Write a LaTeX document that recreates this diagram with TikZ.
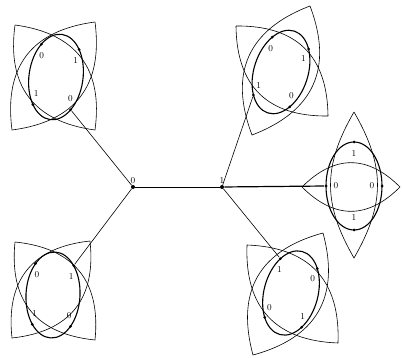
\documentclass[tikz,border=0pt]{standalone}
\begin{document}
\begin{tikzpicture}[
  x=1pt, y=-1pt, line width=0.6pt,
  vtx/.style={circle, fill, inner sep=0pt, minimum size=3pt},
  hub/.style={circle, fill, inner sep=0pt, minimum size=4pt},
  lbl/.style={font=\small, inner sep=1pt},
  ring/.style={line width=1.1pt},
  lens/.style={bend left=45, looseness=1.2},
  thin lens/.style={bend left=30, looseness=1.1}
]
\useasboundingbox (0,0) rectangle (402,358);

\node[hub, label={[lbl]above:0}] (n0) at (133,187) {};
\node[hub, label={[lbl]above:1}] (n1) at (222,187) {};

\foreach \n/\cx/\cy/\r/\a/\b/\c/\d in {tl/56/77/-8/0/1/1/0, bl/53/295/-3/0/1/1/0,
                                      tr/281/72/-18/0/1/1/0, br/291/293/-15/1/0/0/1} {
  \begin{scope}[shift={(\cx,\cy)}, rotate=\r]
    \draw[ring] (0,0) ellipse (27 and 43);
    \foreach \ang/\t/\la in {225/\a/215, 315/\b/325, 135/\c/145, 45/\d/35} {
      \node[vtx] (\n-\ang) at (\ang:27 and 43) {};
      \node[lbl] (\n-\ang-t) at (\la:21 and 34) {\t};
    }
  \end{scope}
}

\begin{scope}[shift={(354,186)}]
  \draw[ring] (0,0) ellipse (28 and 44);
  \foreach \ang/\t in {0/0, 90/1, 180/0, 270/1} {
    \node[vtx] (r-\ang) at (\ang:28 and 44) {};
    \node[lbl] (r-\ang-t) at (\ang:18 and 32) {\t};
  }
\end{scope}

\draw (15,25) to[lens] (95,130) to[lens] (15,25);
\draw (95,22) to[lens] (12,130) to[lens] (95,22);
\draw (15,242) to[lens] (95,340) to[lens] (15,242);
\draw (90,241) to[lens] (12,338) to[lens] (90,241);
\draw (236,26) to[lens] (328,116) to[lens] (236,26);
\draw (310,6) to[lens] (252,135) to[lens] (310,6);
\draw (247,245) to[lens] (338,343) to[lens] (247,245);
\draw (323,233) to[lens] (253,355) to[lens] (323,233);
\draw (354,112) to[thin lens] (354,258) to[thin lens] (354,112);
\draw (302,187) to[lens] (400,187) to[lens] (302,187);

\draw[thick] (n0) -- (n1);
\draw (n0) -- (tl-45);
\draw (n0) -- (bl-315);
\draw (n1) -- (tr-135);
\draw (n1) -- (br-225);
\draw[very thick] (n1) -- (r-180);
\end{tikzpicture}
\end{document}
